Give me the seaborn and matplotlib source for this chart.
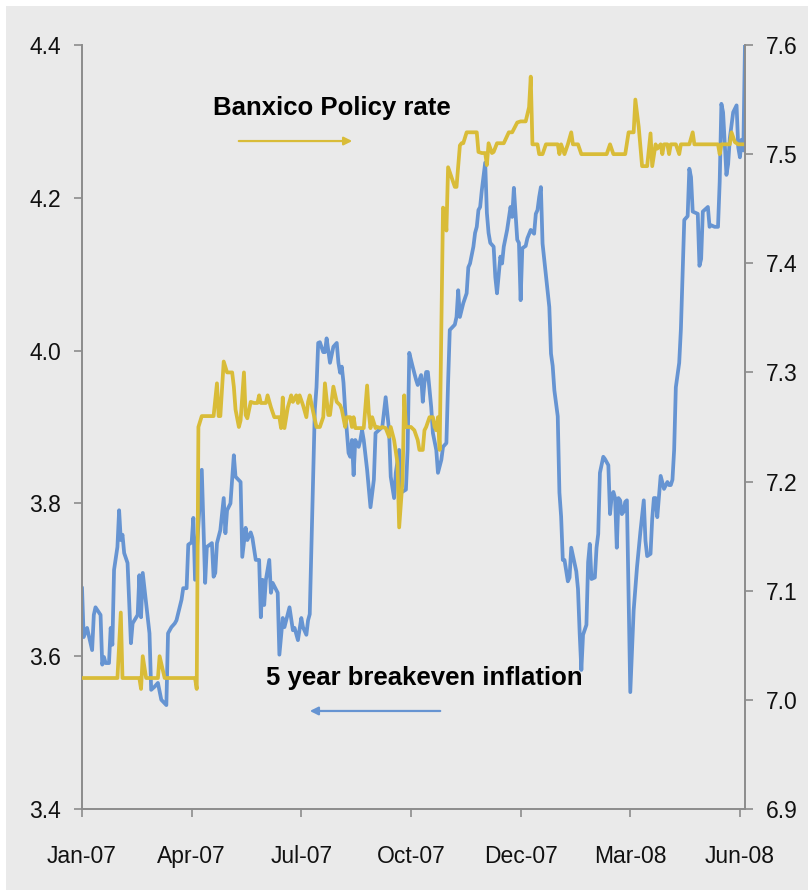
import matplotlib
matplotlib.use("Agg")
import matplotlib.pyplot as plt
import matplotlib.font_manager as fm
from matplotlib.patches import Rectangle
import seaborn as sns
import pandas as pd

# 5 year breakeven inflation (left axis), trading-day index
be_day = [0, 1, 3, 6, 7, 8, 11, 12, 13, 14, 16, 17, 18, 19, 21, 22, 23, 24, 25, 27,
          29, 30, 33, 34, 35, 36, 40, 41, 43, 45, 47, 50, 51, 53, 55, 56, 59, 60, 62, 63,
          65, 66, 67, 71, 73, 74, 77, 78, 79, 80, 82, 84, 85, 86, 88, 90, 91, 94, 95, 97,
          98, 100, 101, 103, 105, 106, 107, 108, 109, 111, 112, 113, 116, 117, 119, 120, 123, 125, 126, 128,
          130, 131, 133, 134, 135, 138, 139, 140, 141, 143, 144, 145, 147, 149, 151, 152, 153, 154, 155, 156,
          158, 159, 160, 161, 162, 164, 165, 166, 167, 169, 171, 173, 174, 176, 178, 180, 182, 183, 185, 186,
          188, 189, 192, 193, 194, 196, 198, 199, 201, 202, 203, 204, 205, 207, 208, 210, 211, 213, 214, 216,
          217, 218, 221, 222, 223, 224, 226, 228, 229, 230, 232, 233, 234, 235, 236, 237, 239, 240, 241, 242,
          244, 245, 246, 248, 249, 250, 252, 254, 255, 256, 258, 259, 260, 261, 263, 264, 266, 268, 269, 270,
          271, 272, 273, 275, 277, 278, 279, 280, 282, 283, 284, 285, 286, 288, 289, 290, 293, 294, 295, 296,
          297, 299, 300, 301, 302, 304, 305, 306, 307, 309, 310, 312, 313, 314, 315, 316, 317, 318, 319, 320,
          321, 322, 323, 325, 327, 329, 331, 333, 334, 335, 337, 338, 339, 340, 341, 343, 345, 347, 348, 349,
          350, 351, 352, 354, 355, 357, 359, 360, 361, 362, 365, 366, 367, 368, 371, 372, 373, 375, 377, 378,
          379, 380, 381, 382, 383, 384, 385, 386, 388, 389, 390, 391, 392, 393]
be_val = [3.690, 3.625, 3.637, 3.608, 3.654, 3.664, 3.654, 3.589, 3.599, 3.591, 3.591, 3.637, 3.615, 3.713, 3.743, 3.791, 3.752, 3.759, 3.735, 3.722,
          3.617, 3.643, 3.654, 3.706, 3.651, 3.709, 3.630, 3.556, 3.560, 3.565, 3.543, 3.536, 3.630, 3.638, 3.643, 3.647, 3.674, 3.689, 3.689, 3.746,
          3.749, 3.781, 3.700, 3.844, 3.696, 3.743, 3.748, 3.704, 3.709, 3.748, 3.765, 3.807, 3.761, 3.791, 3.800, 3.863, 3.835, 3.828, 3.730, 3.768,
          3.752, 3.762, 3.755, 3.726, 3.726, 3.651, 3.700, 3.667, 3.700, 3.726, 3.683, 3.696, 3.683, 3.602, 3.650, 3.638, 3.664, 3.634, 3.637, 3.621,
          3.650, 3.638, 3.628, 3.647, 3.655, 3.922, 3.952, 4.010, 4.011, 3.998, 3.998, 4.016, 3.984, 4.005, 4.010, 3.984, 3.971, 3.979, 3.958, 3.922,
          3.866, 3.861, 3.883, 3.837, 3.883, 3.874, 3.883, 3.896, 3.883, 3.844, 3.795, 3.831, 3.892, 3.896, 3.900, 3.939, 3.896, 3.835, 3.807, 3.840,
          3.870, 3.814, 3.818, 3.870, 3.997, 3.979, 3.962, 3.955, 3.968, 3.933, 3.958, 3.972, 3.972, 3.926, 3.892, 3.870, 3.840, 3.857, 3.874, 3.879,
          3.958, 4.027, 4.034, 4.044, 4.079, 4.044, 4.062, 4.075, 4.109, 4.114, 4.136, 4.154, 4.162, 4.184, 4.188, 4.210, 4.246, 4.180, 4.154, 4.141,
          4.136, 4.096, 4.075, 4.123, 4.114, 4.136, 4.158, 4.188, 4.175, 4.213, 4.145, 4.141, 4.066, 4.134, 4.137, 4.147, 4.158, 4.153, 4.179, 4.184,
          4.201, 4.214, 4.140, 4.099, 4.057, 3.996, 3.980, 3.948, 3.914, 3.814, 3.783, 3.726, 3.726, 3.698, 3.703, 3.742, 3.711, 3.688, 3.630, 3.582,
          3.628, 3.641, 3.723, 3.747, 3.701, 3.703, 3.742, 3.760, 3.840, 3.861, 3.858, 3.850, 3.786, 3.810, 3.815, 3.807, 3.742, 3.807, 3.804, 3.786,
          3.789, 3.802, 3.804, 3.553, 3.660, 3.717, 3.763, 3.804, 3.751, 3.731, 3.734, 3.780, 3.807, 3.807, 3.782, 3.836, 3.819, 3.828, 3.824, 3.824,
          3.831, 3.870, 3.952, 3.984, 4.028, 4.171, 4.176, 4.238, 4.227, 4.182, 4.179, 4.111, 4.120, 4.182, 4.188, 4.162, 4.164, 4.162, 4.162, 4.221,
          4.323, 4.312, 4.272, 4.230, 4.244, 4.278, 4.295, 4.312, 4.321, 4.266, 4.253, 4.276, 4.262, 4.403]

# Banxico policy rate (right axis)
rate_day = [0, 21, 23, 24, 34, 35, 36, 38, 45, 46, 49, 67, 68, 69, 71, 78, 80, 81, 82, 84,
            86, 89, 90, 91, 93, 94, 96, 97, 98, 100, 102, 104, 105, 106, 109, 110, 112, 114, 117, 118,
            119, 120, 122, 124, 125, 127, 128, 129, 131, 133, 134, 135, 137, 139, 141, 143, 144, 146, 147, 149,
            151, 153, 154, 156, 157, 159, 160, 161, 162, 167, 169, 170, 171, 172, 174, 175, 177, 178, 180, 182,
            183, 185, 187, 188, 190, 191, 192, 195, 197, 199, 200, 202, 203, 204, 206, 208, 209, 210, 211, 212,
            214, 215, 216, 217, 219, 221, 222, 224, 225, 226, 228, 234, 235, 237, 239, 240, 241, 243, 244, 246,
            248, 250, 253, 255, 258, 260, 263, 265, 266, 267, 270, 271, 273, 275, 282, 283, 284, 286, 288, 290,
            291, 294, 296, 311, 313, 315, 322, 324, 327, 328, 330, 332, 335, 337, 338, 340, 341, 343, 344, 345,
            347, 348, 349, 352, 354, 355, 360, 362, 363, 377, 378, 379, 384, 385, 387, 389, 393]
rate_val = [7.020, 7.020, 7.080, 7.020, 7.020, 7.010, 7.040, 7.020, 7.020, 7.040, 7.020, 7.020, 7.010, 7.250, 7.260, 7.260, 7.290, 7.260, 7.260, 7.310,
            7.300, 7.300, 7.287, 7.266, 7.250, 7.256, 7.300, 7.261, 7.258, 7.273, 7.272, 7.272, 7.279, 7.272, 7.272, 7.279, 7.268, 7.259, 7.259, 7.249,
            7.277, 7.249, 7.268, 7.279, 7.273, 7.279, 7.272, 7.279, 7.270, 7.259, 7.273, 7.279, 7.264, 7.250, 7.250, 7.259, 7.290, 7.261, 7.261, 7.287,
            7.273, 7.270, 7.266, 7.250, 7.259, 7.259, 7.250, 7.259, 7.249, 7.249, 7.288, 7.263, 7.249, 7.259, 7.249, 7.250, 7.249, 7.250, 7.249, 7.241,
            7.250, 7.238, 7.217, 7.158, 7.201, 7.279, 7.250, 7.250, 7.247, 7.238, 7.229, 7.229, 7.247, 7.250, 7.259, 7.259, 7.250, 7.247, 7.259, 7.229,
            7.451, 7.449, 7.430, 7.488, 7.479, 7.470, 7.470, 7.508, 7.510, 7.510, 7.520, 7.520, 7.502, 7.501, 7.501, 7.490, 7.510, 7.501, 7.502, 7.510,
            7.510, 7.510, 7.520, 7.520, 7.529, 7.530, 7.530, 7.543, 7.571, 7.509, 7.509, 7.500, 7.500, 7.509, 7.509, 7.500, 7.509, 7.500, 7.509, 7.520,
            7.509, 7.509, 7.500, 7.500, 7.509, 7.500, 7.500, 7.520, 7.520, 7.550, 7.525, 7.489, 7.489, 7.519, 7.489, 7.509, 7.505, 7.509, 7.500, 7.509,
            7.509, 7.500, 7.509, 7.509, 7.500, 7.509, 7.509, 7.520, 7.509, 7.509, 7.500, 7.509, 7.509, 7.520, 7.511, 7.509, 7.509]

tick_days = [0, 65, 130, 195, 260, 325, 390]
tick_labels = ['Jan-07', 'Apr-07', 'Jul-07', 'Oct-07', 'Dec-07', 'Mar-08', 'Jun-08']
left_ticks = [3.4, 3.6, 3.8, 4.0, 4.2, 4.4]
right_ticks = [6.9, 7.0, 7.1, 7.2, 7.3, 7.4, 7.5, 7.6]

BLUE = '#6694D2'
GOLD = '#D9BC38'
BG = '#EAEAEA'
SPINE = '#8C8C8C'

sns.set_theme(style='white')
installed = {f.name for f in fm.fontManager.ttflist}
tick_font = 'DejaVu Sans'
for name in ['Liberation Sans Narrow', 'Liberation Sans']:
    if name in installed:
        tick_font = name
        break
bold_font = 'Liberation Sans' if 'Liberation Sans' in installed else 'DejaVu Sans'
plt.rcParams['font.family'] = [tick_font, 'DejaVu Sans']

be = pd.DataFrame({'day': be_day, 'value': be_val})
rate = pd.DataFrame({'day': rate_day, 'value': rate_val})

fig = plt.figure(figsize=(8.08, 8.90), dpi=100, facecolor='white')
fig.patches.append(Rectangle((6 / 808, 0), 1, 1 - 6 / 890, transform=fig.transFigure,
                             facecolor=BG, edgecolor='none', zorder=-10))

ax = fig.add_axes([82 / 808, 81 / 890, 663 / 808, 764 / 890])
ax.set_facecolor(BG)
ax2 = ax.twinx()

sns.lineplot(data=be, x='day', y='value', ax=ax, color=BLUE, lw=2.7, sort=False)
sns.lineplot(data=rate, x='day', y='value', ax=ax2, color=GOLD, lw=2.7, sort=False)

ax.set_xlim(0, 393)
ax.set_ylim(3.4, 4.4)
ax2.set_ylim(6.9, 7.6)

ax.set_xticks(tick_days)
ax.set_xticklabels(tick_labels)
ax.set_yticks(left_ticks)
ax.set_yticklabels([f'{v:.1f}' for v in left_ticks])
ax2.set_yticks(right_ticks)
ax2.set_yticklabels([f'{v:.1f}' for v in right_ticks])

for a in (ax, ax2):
    a.set_xlabel('')
    a.set_ylabel('')
    a.grid(False)
    for s in a.spines.values():
        s.set_visible(False)

ax.spines['left'].set_visible(True)
ax.spines['bottom'].set_visible(True)
ax2.spines['right'].set_visible(True)
for s in (ax.spines['left'], ax.spines['bottom'], ax2.spines['right']):
    s.set_color(SPINE)
    s.set_linewidth(1.4)

ax.tick_params(axis='y', which='major', direction='out', length=6, width=1.2, color=SPINE,
               pad=9, labelsize=16.5, labelcolor='#111111', left=True)
ax.tick_params(axis='x', which='major', direction='out', length=6, width=1.2, color=SPINE,
               pad=20, labelsize=16.5, labelcolor='#111111', bottom=True)
ax2.tick_params(axis='y', which='major', direction='out', length=6, width=1.2, color=SPINE,
                pad=9, labelsize=16.5, labelcolor='#111111', right=True)

ax.text(0.1976, 0.9175, 'Banxico Policy rate', transform=ax.transAxes, ha='left', va='center',
        fontsize=18.5, fontweight='bold', family=[bold_font, 'DejaVu Sans'], color='black', zorder=5)
ax.annotate('', xy=(0.4118, 0.8743), xytext=(0.2323, 0.8743), xycoords='axes fraction',
            arrowprops=dict(arrowstyle='-|>', color=GOLD, lw=1.6, mutation_scale=12))
ax.text(0.2775, 0.1715, '5 year breakeven inflation', transform=ax.transAxes, ha='left', va='center',
        fontsize=18.5, fontweight='bold', family=[bold_font, 'DejaVu Sans'], color='black', zorder=5)
ax.annotate('', xy=(0.3394, 0.1283), xytext=(0.5445, 0.1283), xycoords='axes fraction',
            arrowprops=dict(arrowstyle='-|>', color=BLUE, lw=1.6, mutation_scale=12))

fig.savefig('out.png', dpi=100, facecolor=fig.get_facecolor())
